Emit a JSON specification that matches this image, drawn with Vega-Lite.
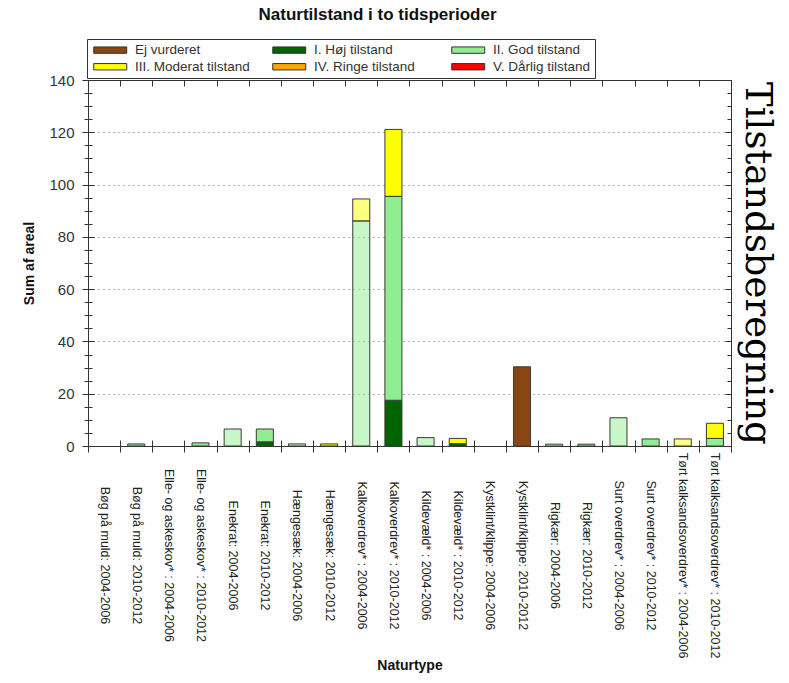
{
  "$schema": "https://vega.github.io/schema/vega-lite/v6.json",
  "width": 643,
  "height": 366,
  "autosize": {"type": "none"},
  "padding": {"left": 88, "top": 80, "right": 58, "bottom": 237},
  "background": "white",
  "config": {"font": "Liberation Sans", "view": {"stroke": null}},
  "title": {"text": "Naturtilstand i to tidsperioder", "fontSize": 17, "fontWeight": "bold", "font": "Liberation Sans", "color": "#111", "anchor": "middle", "dx": -32, "offset": 15},
  "data": {"values": [
    {"kat": "Bøg på muld: 2010-2012", "periode": "2010-2012", "tilstand": "II. God tilstand", "areal": 0.8},
    {"kat": "Elle- og askeskov* : 2010-2012", "periode": "2010-2012", "tilstand": "II. God tilstand", "areal": 1.2},
    {"kat": "Enekrat: 2004-2006", "periode": "2004-2006", "tilstand": "II. God tilstand", "areal": 6.5},
    {"kat": "Enekrat: 2010-2012", "periode": "2010-2012", "tilstand": "I. Høj tilstand", "areal": 1.6},
    {"kat": "Enekrat: 2010-2012", "periode": "2010-2012", "tilstand": "II. God tilstand", "areal": 4.9},
    {"kat": "Hængesæk: 2004-2006", "periode": "2004-2006", "tilstand": "II. God tilstand", "areal": 0.8},
    {"kat": "Hængesæk: 2010-2012", "periode": "2010-2012", "tilstand": "III. Moderat tilstand", "areal": 0.8},
    {"kat": "Kalkoverdrev* : 2004-2006", "periode": "2004-2006", "tilstand": "II. God tilstand", "areal": 86.1},
    {"kat": "Kalkoverdrev* : 2004-2006", "periode": "2004-2006", "tilstand": "III. Moderat tilstand", "areal": 8.4},
    {"kat": "Kalkoverdrev* : 2010-2012", "periode": "2010-2012", "tilstand": "I. Høj tilstand", "areal": 17.5},
    {"kat": "Kalkoverdrev* : 2010-2012", "periode": "2010-2012", "tilstand": "II. God tilstand", "areal": 78},
    {"kat": "Kalkoverdrev* : 2010-2012", "periode": "2010-2012", "tilstand": "III. Moderat tilstand", "areal": 25.6},
    {"kat": "Kildevæld* : 2004-2006", "periode": "2004-2006", "tilstand": "II. God tilstand", "areal": 3.2},
    {"kat": "Kildevæld* : 2010-2012", "periode": "2010-2012", "tilstand": "I. Høj tilstand", "areal": 0.9},
    {"kat": "Kildevæld* : 2010-2012", "periode": "2010-2012", "tilstand": "III. Moderat tilstand", "areal": 2.0},
    {"kat": "Kystklint/klippe: 2010-2012", "periode": "2010-2012", "tilstand": "Ej vurderet", "areal": 30.3},
    {"kat": "Rigkær: 2004-2006", "periode": "2004-2006", "tilstand": "II. God tilstand", "areal": 0.7},
    {"kat": "Rigkær: 2010-2012", "periode": "2010-2012", "tilstand": "II. God tilstand", "areal": 0.7},
    {"kat": "Surt overdrev* : 2004-2006", "periode": "2004-2006", "tilstand": "II. God tilstand", "areal": 10.8},
    {"kat": "Surt overdrev* : 2010-2012", "periode": "2010-2012", "tilstand": "II. God tilstand", "areal": 2.7},
    {"kat": "Tørt kalksandsoverdrev* : 2004-2006", "periode": "2004-2006", "tilstand": "III. Moderat tilstand", "areal": 2.7},
    {"kat": "Tørt kalksandsoverdrev* : 2010-2012", "periode": "2010-2012", "tilstand": "II. God tilstand", "areal": 2.9},
    {"kat": "Tørt kalksandsoverdrev* : 2010-2012", "periode": "2010-2012", "tilstand": "III. Moderat tilstand", "areal": 5.8}
  ]},
  "layer": [
    {
      "mark": {"type": "bar", "stroke": "#3a3a3a", "strokeWidth": 1, "width": {"band": 0.53}},
      "encoding": {
        "x": {
          "field": "kat", "type": "nominal",
          "scale": {"domain": ["Bøg på muld: 2004-2006", "Bøg på muld: 2010-2012", "Elle- og askeskov* : 2004-2006", "Elle- og askeskov* : 2010-2012", "Enekrat: 2004-2006", "Enekrat: 2010-2012", "Hængesæk: 2004-2006", "Hængesæk: 2010-2012", "Kalkoverdrev* : 2004-2006", "Kalkoverdrev* : 2010-2012", "Kildevæld* : 2004-2006", "Kildevæld* : 2010-2012", "Kystklint/klippe: 2004-2006", "Kystklint/klippe: 2010-2012", "Rigkær: 2004-2006", "Rigkær: 2010-2012", "Surt overdrev* : 2004-2006", "Surt overdrev* : 2010-2012", "Tørt kalksandsoverdrev* : 2004-2006", "Tørt kalksandsoverdrev* : 2010-2012"], "paddingInner": 0, "paddingOuter": 0},
          "axis": {"orient": "bottom", "title": "Naturtype", "titleFontSize": 14, "titleFontWeight": "bold", "titleColor": "#111", "titlePadding": 12, "labelAngle": 90, "labelAlign": "center", "labelBaseline": "middle", "labelPadding": 103, "labelFontSize": 12.5, "labelColor": "#222", "labelLimit": 300, "labelOverlap": false, "labelFlush": false, "tickSize": 6, "tickColor": "#333", "domainColor": "#333", "tickBand": "extent", "grid": false}
        },
        "y": {
          "field": "areal", "type": "quantitative", "stack": "zero",
          "scale": {"domain": [0, 140], "nice": false, "zero": true},
          "axis": {"orient": "left", "values": [0,5,10,15,20,25,30,35,40,45,50,55,60,65,70,75,80,85,90,95,100,105,110,115,120,125,130,135,140], "labelExpr": "datum.value % 20 === 0 ? datum.label : ''", "tickSize": {"condition": {"test": "datum.value % 20 === 0", "value": 6}, "value": 4}, "labelFontSize": 15, "labelColor": "#333", "labelPadding": 8, "grid": true, "gridDash": [1, 4], "gridColor": "#666", "gridOpacity": {"condition": {"test": "datum.value % 20 === 0 && datum.value > 0 && datum.value < 140", "value": 1}, "value": 0}, "title": "Sum af areal", "titleFontSize": 14, "titleFontWeight": "bold", "titleColor": "#111", "titlePadding": 12, "domainColor": "#333", "tickColor": "#333"}
        },
        "color": {
          "field": "tilstand", "type": "nominal",
          "scale": {"domain": ["Ej vurderet", "I. Høj tilstand", "II. God tilstand", "III. Moderat tilstand", "IV. Ringe tilstand", "V. Dårlig tilstand"], "range": ["#8B4513", "#006400", "#90EE90", "#FFFF00", "#FFA500", "#FF0000"]},
          "legend": {"orient": "none", "legendX": -1, "legendY": -41, "direction": "horizontal", "columns": 3, "title": null, "symbolType": "M-4.71,-0.91H4.71V0.91H-4.71Z", "symbolSize": 49, "symbolStrokeColor": "#333", "symbolStrokeWidth": 1, "symbolOpacity": 1, "symbolOffset": 12.5, "labelOffset": 18, "labelFontSize": 13.5, "labelColor": "#333", "labelLimit": 200, "strokeColor": "#333", "padding": 4, "columnPadding": 20, "rowPadding": 2, "gridAlign": "all"}
        },
        "fillOpacity": {"field": "periode", "type": "nominal", "scale": {"domain": ["2004-2006", "2010-2012"], "range": [0.5, 1]}, "legend": null},
        "order": {"field": "tilstand", "type": "nominal", "sort": "ascending"}
      }
    },
    {
      "mark": {"type": "tick", "opacity": 0},
      "encoding": {
        "x": {
          "field": "kat", "type": "nominal",
          "axis": {"orient": "top", "labels": false, "title": null, "tickSize": -6, "tickBand": "extent", "tickColor": "#333", "domainColor": "#333", "grid": false}
        },
        "y": {
          "field": "areal", "type": "quantitative",
          "axis": {"orient": "right", "values": [0,5,10,15,20,25,30,35,40,45,50,55,60,65,70,75,80,85,90,95,100,105,110,115,120,125,130,135,140], "labels": false, "tickSize": {"condition": {"test": "datum.value % 20 === 0", "value": -6}, "value": -4}, "tickColor": "#333", "domainColor": "#333", "grid": false, "title": "Tilstandsberegning", "titleFont": "DejaVu Serif", "titleFontSize": 37, "titleFontWeight": "normal", "titleColor": "#000", "titleAngle": 90, "titlePadding": 6}
        }
      }
    },
    {
      "mark": {"type": "tick", "opacity": 0},
      "encoding": {
        "x": {
          "field": "kat", "type": "nominal",
          "axis": {"orient": "bottom", "labels": false, "title": null, "domain": false, "tickSize": -6, "tickBand": "extent", "tickColor": "#333", "grid": false}
        },
        "y": {
          "field": "areal", "type": "quantitative",
          "axis": {"orient": "left", "values": [0,5,10,15,20,25,30,35,40,45,50,55,60,65,70,75,80,85,90,95,100,105,110,115,120,125,130,135,140], "labels": false, "domain": false, "title": null, "tickSize": {"condition": {"test": "datum.value % 20 === 0", "value": -6}, "value": -4}, "tickColor": "#333", "grid": false}
        }
      }
    }
  ],
  "resolve": {"axis": {"x": "independent", "y": "independent"}}
}
